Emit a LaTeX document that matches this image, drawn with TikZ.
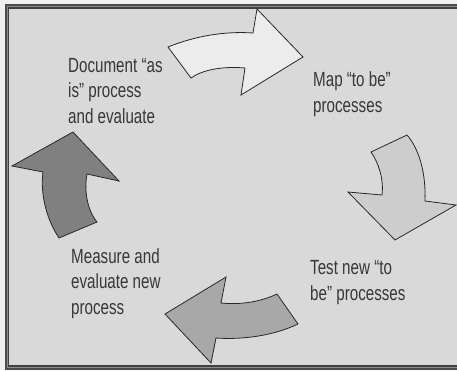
\documentclass[tikz,border=0pt]{standalone}
\usepackage{fontspec}
\setmainfont[FakeStretch=0.74]{Liberation Sans}
\definecolor{bgc}{RGB}{217,217,217}
\definecolor{outc}{RGB}{240,240,240}
\definecolor{txtc}{RGB}{55,55,55}
\definecolor{aone}{RGB}{236,236,236}
\definecolor{atwo}{RGB}{205,205,205}
\definecolor{athree}{RGB}{168,168,168}
\definecolor{afour}{RGB}{128,128,128}
\definecolor{edgec}{RGB}{40,40,40}
\tikzset{
  arrowshape/.style={draw=edgec, line width=0.8pt, line join=miter},
  lbl/.style={anchor=base west, align=left, text=txtc, inner sep=0pt,
    font=\fontsize{20.5pt}{25.5pt}\selectfont}
}
\begin{document}
\begin{tikzpicture}[x=1pt,y=-1pt]
\useasboundingbox (0,0) rectangle (457,370);
\fill[outc] (0,0) rectangle (457,370);
% frame
\fill[black!70] (5,4) rectangle (470,369.5);
\fill[black!45] (6.5,5.5) rectangle (470,368);
\fill[black!75] (7.5,6.5) rectangle (470,366.5);
\fill[bgc] (9,8.5) rectangle (470,364.5);
% arrow 1 (top)
\filldraw[arrowshape, fill=aone] (168,47) .. controls (195,36) and (225,31) .. (253,33)
  -- (257,9) -- (303,57) -- (241,95) -- (245,68)
  .. controls (222,66) and (202,70) .. (191,78) -- cycle;
% arrow 2 (right)
\filldraw[arrowshape, fill=atwo] (407,135) .. controls (420,150) and (426,175) .. (425,201)
  -- (456,205) -- (395,240) -- (348,192) -- (382,195)
  .. controls (384,178) and (378,162) .. (371,152) -- cycle;
% arrow 3 (bottom)
\filldraw[arrowshape, fill=athree] (298,324) .. controls (275,335) and (245,340) .. (216,338)
  -- (211,363) -- (165,314) -- (226,277) -- (221,303)
  .. controls (240,305) and (260,302) .. (277,294) -- cycle;
% arrow 4 (left)
\filldraw[arrowshape, fill=afour] (97,222) .. controls (87,210) and (84,190) .. (87,174)
  -- (119,181) -- (73,132) -- (12,166) -- (43,172)
  .. controls (40,195) and (47,220) .. (59,238) -- cycle;
% labels (anchor at baseline of last line)
\node[lbl] (doc) at (68,123) {Document “as\\is” process\\and evaluate};
\node[lbl] (map) at (313,112) {Map “to be”\\processes};
\node[lbl] (test) at (310,300) {Test new “to\\be” processes};
\node[lbl] (meas) at (71,314) {Measure and\\evaluate new\\process};
\end{tikzpicture}
\end{document}
